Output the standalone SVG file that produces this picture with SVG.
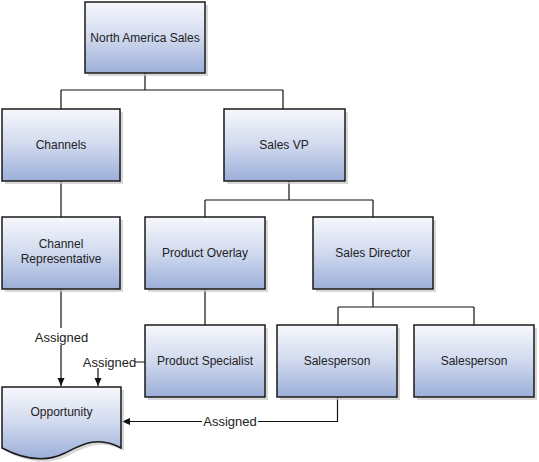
<svg xmlns="http://www.w3.org/2000/svg" width="539" height="462" viewBox="0 0 539 462">
<defs>
<linearGradient id="g" x1="0" y1="0" x2="0" y2="1">
<stop offset="0" stop-color="#f7f8fc"/>
<stop offset="0.5" stop-color="#d0d9ee"/>
<stop offset="1" stop-color="#9cafd9"/>
</linearGradient>
<marker id="ah" markerWidth="8" markerHeight="8" viewBox="0 0 8 8" refX="8" refY="4" orient="auto" markerUnits="userSpaceOnUse">
<path d="M0,0.5 L8,4 L0,7.5 Z" fill="#111"/>
</marker>
<style>
.box{fill:url(#g);stroke:#1a1a1a;stroke-width:1.5}
.sh{fill:#c8c8c8;opacity:0.7}
.t{font-family:"Liberation Sans",Arial,sans-serif;font-size:12px;fill:#222;text-anchor:middle}
.a{font-family:"Liberation Sans",Arial,sans-serif;font-size:13px;fill:#222;text-anchor:middle}
.c{fill:none;stroke:#111;stroke-width:1.2}
.lbl{fill:#fff}
</style>
</defs>
<g id="connectors">
<path class="c" d="M145,73 V90 M61,90 H283 M61,90 V109 M283,90 V109"/>
<path class="c" d="M61,181 V217"/>
<path class="c" d="M289,181 V200 M205,200 H373 M205,200 V217 M373,200 V217"/>
<path class="c" d="M205,289 V325"/>
<path class="c" d="M373,289 V307 M338,307 H474 M338,307 V325 M474,307 V325"/>
<path class="c" d="M61,289 V386" marker-end="url(#ah)"/>
<rect class="lbl" x="32" y="328" width="59" height="17"/>
<text class="a" x="61.5" y="342">Assigned</text>
<path class="c" d="M145,362 H98 V386" marker-end="url(#ah)"/>
<rect class="lbl" x="84" y="354" width="51" height="14"/>
<text class="a" x="109.5" y="366.5">Assigned</text>
<path class="c" d="M337.5,397 V421.5 H122" marker-end="url(#ah)"/>
<rect class="lbl" x="202" y="414" width="56" height="15"/>
<text class="a" x="230" y="426">Assigned</text>
</g>
<g id="north-america-sales">
<rect class="sh" x="88" y="5" width="120" height="71"/>
<rect class="box" x="85" y="2" width="120" height="71"/>
<text class="t" x="145" y="41.5">North America Sales</text>
</g>
<g id="channels">
<rect class="sh" x="5" y="112" width="118" height="72"/>
<rect class="box" x="2" y="109" width="118" height="72"/>
<text class="t" x="61" y="149">Channels</text>
</g>
<g id="sales-vp">
<rect class="sh" x="227" y="112" width="121" height="72"/>
<rect class="box" x="224" y="109" width="121" height="72"/>
<text class="t" x="284" y="149">Sales VP</text>
</g>
<g id="channel-representative">
<rect class="sh" x="5" y="220" width="118" height="72"/>
<rect class="box" x="2" y="217" width="118" height="72"/>
<text class="t" x="61" y="248">Channel</text>
<text class="t" x="61" y="263">Representative</text>
</g>
<g id="product-overlay">
<rect class="sh" x="148" y="220" width="120" height="72"/>
<rect class="box" x="145" y="217" width="120" height="72"/>
<text class="t" x="205" y="257">Product Overlay</text>
</g>
<g id="sales-director">
<rect class="sh" x="316" y="220" width="120" height="72"/>
<rect class="box" x="313" y="217" width="120" height="72"/>
<text class="t" x="373" y="257">Sales Director</text>
</g>
<g id="product-specialist">
<rect class="sh" x="148" y="328" width="120" height="72"/>
<rect class="box" x="145" y="325" width="120" height="72"/>
<text class="t" x="205" y="365">Product Specialist</text>
</g>
<g id="salesperson-1">
<rect class="sh" x="280" y="328" width="120" height="72"/>
<rect class="box" x="277" y="325" width="120" height="72"/>
<text class="t" x="337" y="365">Salesperson</text>
</g>
<g id="salesperson-2">
<rect class="sh" x="417" y="328" width="120" height="72"/>
<rect class="box" x="414" y="325" width="120" height="72"/>
<text class="t" x="474" y="365">Salesperson</text>
</g>
<g id="opportunity">
<path class="sh" d="M5,390 H124 V451 C100,438 84,448 68,456 C48,466 26,462 5,451 Z"/>
<path class="box" d="M2,387 H121 V448 C97,435 81,445 65,453 C45,463 23,459 2,448 Z"/>
<text class="t" x="61.5" y="416">Opportunity</text>
</g>
</svg>
